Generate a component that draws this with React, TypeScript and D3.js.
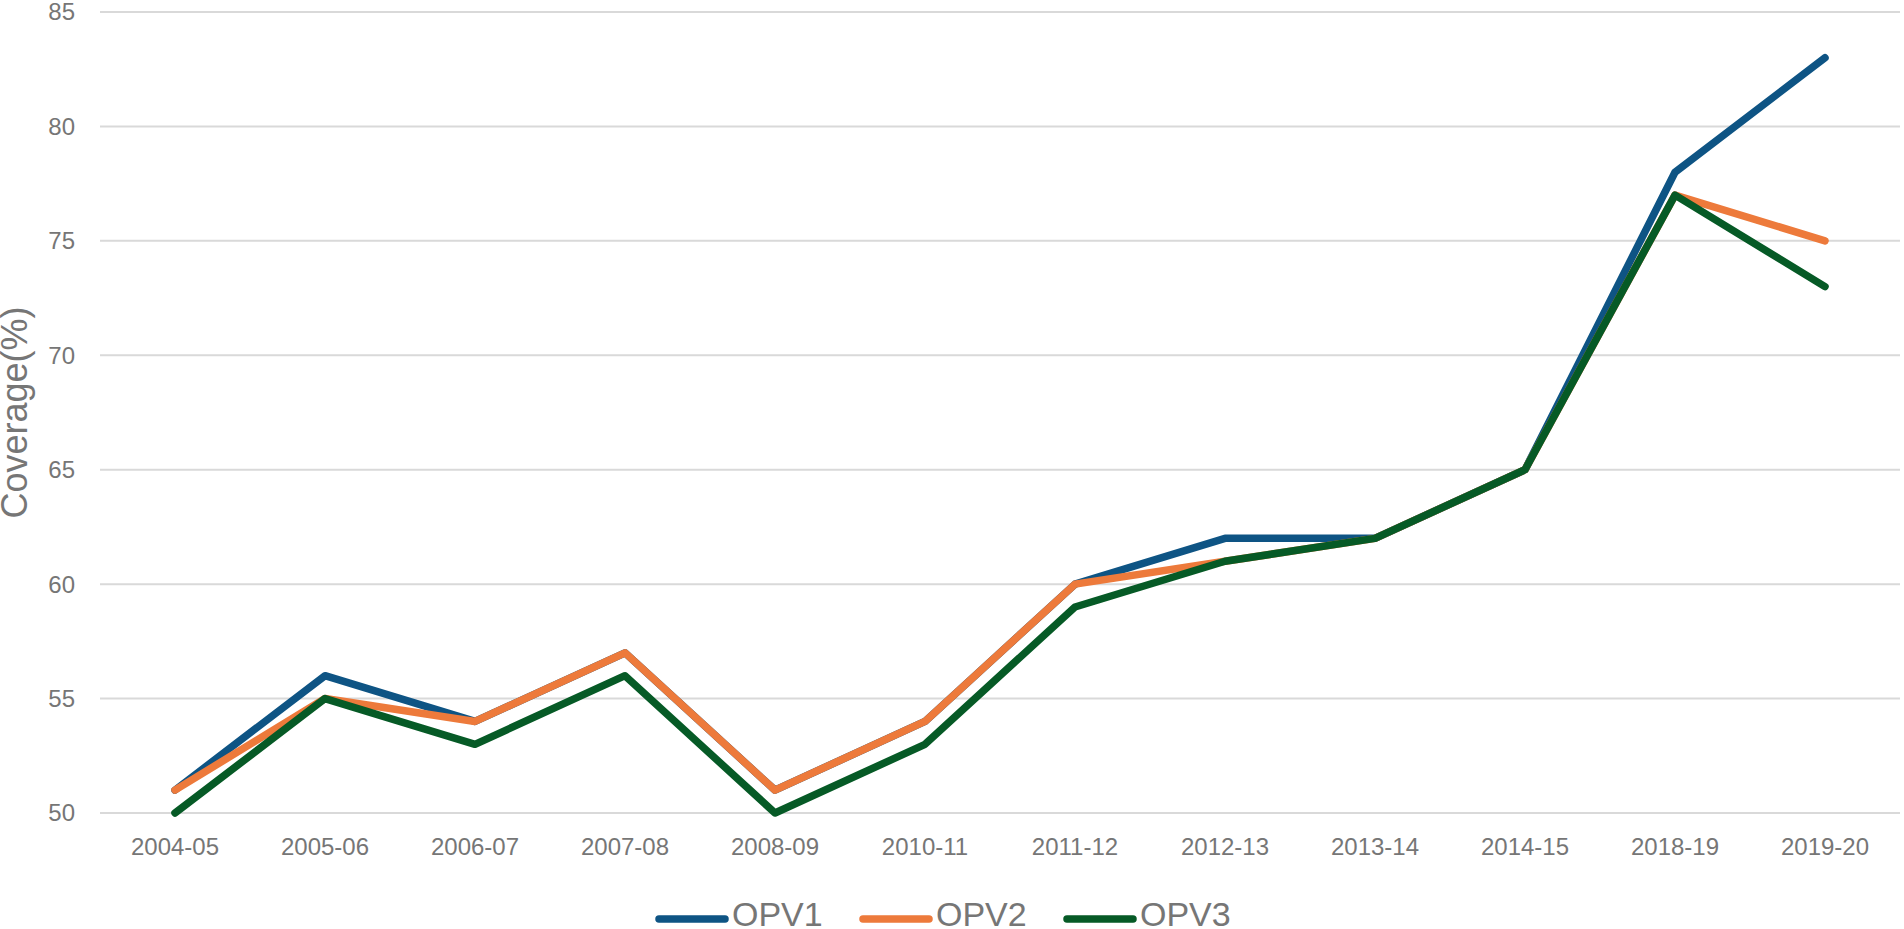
import React from "react";
import * as d3 from "d3";

const years = [
  "2004-05", "2005-06", "2006-07", "2007-08", "2008-09", "2010-11",
  "2011-12", "2012-13", "2013-14", "2014-15", "2018-19", "2019-20",
];
const opv1 = [51, 56, 54, 57, 51, 54, 60, 62, 62, 65, 78, 83];
const opv2 = [51, 55, 54, 57, 51, 54, 60, 61, 62, 65, 77, 75];
const opv3 = [50, 55, 53, 56, 50, 53, 59, 61, 62, 65, 77, 73];
const yTicks = [50, 55, 60, 65, 70, 75, 80, 85];

const SERIES = [
  { name: "OPV1", values: opv1, color: "#0e5484" },
  { name: "OPV2", values: opv2, color: "#ed7a3b" },
  { name: "OPV3", values: opv3, color: "#065a26" },
];

const W = 1904;
const H = 929;
const margin = { top: 12, right: 4, bottom: 116, left: 100 };
const TEXT = "#767676";
const FONT = "'Liberation Sans', Arial, sans-serif";

export default function App() {
  const x = d3
    .scaleBand()
    .domain(years)
    .range([margin.left, W - margin.right])
    .paddingInner(0)
    .paddingOuter(0);
  const cx = (d: string) => (x(d) || 0) + x.bandwidth() / 2;

  const y = d3.scaleLinear().domain([50, 85]).range([H - margin.bottom, margin.top]);

  const line = d3
    .line<number>()
    .x((_, i) => cx(years[i]))
    .y((v) => y(v));

  const legendX0 = 659;
  const legendStep = 204;
  const legendY = 919;

  return (
    <svg
      width={W}
      height={H}
      style={{ position: "absolute", left: 0, top: 0, background: "#fff" }}
      fontFamily={FONT}
    >
      <rect width={W} height={H} fill="#fff" />

      {/* gridlines and y labels */}
      {yTicks.map((t) => (
        <g key={t}>
          <line
            x1={margin.left}
            x2={W - margin.right}
            y1={y(t)}
            y2={y(t)}
            stroke="#d9d9d9"
            strokeWidth={2}
          />
          <text
            x={75}
            y={y(t)}
            dy="0.35em"
            textAnchor="end"
            fontSize={24}
            fill={TEXT}
          >
            {t}
          </text>
        </g>
      ))}

      {/* x labels */}
      {years.map((d) => (
        <text key={d} x={cx(d)} y={855} textAnchor="middle" fontSize={24} fill={TEXT}>
          {d}
        </text>
      ))}

      {/* y title */}
      <text
        transform={`translate(27, ${(y(50) + y(85)) / 2}) rotate(-90)`}
        textAnchor="middle"
        fontSize={36}
        fill={TEXT}
      >
        Coverage(%)
      </text>

      {/* lines */}
      {SERIES.map((s) => (
        <path
          key={s.name}
          d={line(s.values) || ""}
          fill="none"
          stroke={s.color}
          strokeWidth={7.5}
          strokeLinejoin="round"
          strokeLinecap="round"
        />
      ))}

      {/* legend */}
      {SERIES.map((s, i) => {
        const lx = legendX0 + i * legendStep;
        return (
          <g key={s.name}>
            <line
              x1={lx}
              x2={lx + 66}
              y1={legendY}
              y2={legendY}
              stroke={s.color}
              strokeWidth={7.5}
              strokeLinecap="round"
            />
            <text x={lx + 73} y={926} fontSize={34} fill={TEXT}>
              {s.name}
            </text>
          </g>
        );
      })}
    </svg>
  );
}
